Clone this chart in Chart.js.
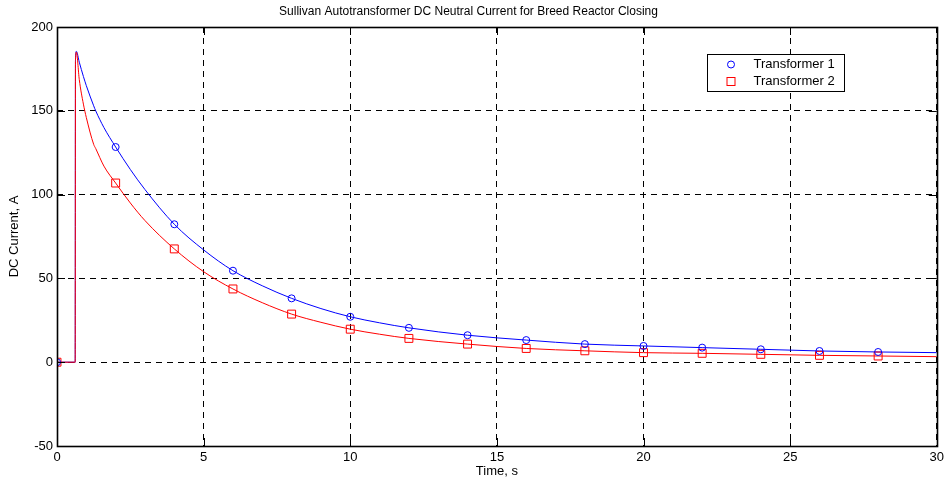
<!DOCTYPE html>
<html><head><meta charset="utf-8">
<script src="https://cdn.jsdelivr.net/npm/chart.js@4"></script>
<style>html,body{margin:0;padding:0;background:#fff}canvas{display:block}</style>
</head><body>
<canvas id="c" width="948" height="481"></canvas>
<script>
const chartTitle = 'Sullivan Autotransformer DC Neutral Current for Breed Reactor Closing';
const xTitle = 'Time, s';
const yTitle = 'DC Current, A';
const seriesNames = ['Transformer 1', 'Transformer 2'];
const xTicks = [0, 5, 10, 15, 20, 25, 30];
const yTicks = [-50, 0, 50, 100, 150, 200];

const lineTime = [0, 0.62, 0.63, 0.66, 0.76, 0.9, 1.0, 1.25, 1.32, 1.6, 2, 2.5, 3, 4, 5, 6, 7, 8, 9, 10, 11, 12, 14, 16, 18, 20, 22, 24, 26, 28, 30];
const transformer1Line = [0, 0, 180, 185.5, 179, 170.5, 165, 153, 150, 140, 128.4, 115, 103, 82.3, 67, 54.6, 45.6, 38.1, 32, 27.1, 23.5, 20.5, 16.1, 13.2, 10.8, 9.7, 8.7, 7.7, 6.7, 6.1, 5.7];
const transformer2Line = [0, 0, 180, 185, 168.6, 154, 146, 130, 127.5, 117, 106.9, 95, 84.5, 67.6, 54, 43.7, 35.5, 28.7, 23.8, 19.7, 16.7, 14.2, 10.8, 8.2, 6.8, 5.7, 5.3, 4.7, 4.1, 3.7, 3.3];

const markerTime = [0, 2, 4, 6, 8, 10, 12, 14, 16, 18, 20, 22, 24, 26, 28];
const transformer1Markers = [0, 128.4, 82.3, 54.6, 38.1, 27.1, 20.5, 16.1, 13.2, 10.8, 9.7, 8.7, 7.7, 6.7, 6.1];
const transformer2Markers = [0, 106.9, 67.6, 43.7, 28.7, 19.7, 14.2, 10.8, 8.2, 6.8, 5.7, 5.3, 4.7, 4.1, 3.7];

const FONT = '"Liberation Sans", Arial, Helvetica, sans-serif';
const BLUE = '#0000ff', RED = '#ff0000';

const pts = (xs, ys) => xs.map((x, i) => ({x: x, y: ys[i]}));

const boxPlugin = {
  id: 'matlabBox',
  afterDatasetsDraw(chart) {
    const {ctx, chartArea: a, scales} = chart;
    ctx.save();
    ctx.strokeStyle = '#000';
    ctx.lineWidth = 1;
    ctx.setLineDash([]);
    // inward ticks
    const tl = 8;
    ctx.beginPath();
    xTicks.forEach(v => {
      const px = Math.round(scales.x.getPixelForValue(v)) + 0.5;
      ctx.moveTo(px, a.bottom); ctx.lineTo(px, a.bottom - tl);
      ctx.moveTo(px, a.top); ctx.lineTo(px, a.top + tl);
    });
    yTicks.forEach(v => {
      const py = Math.round(scales.y.getPixelForValue(v)) + 0.5;
      ctx.moveTo(a.left, py); ctx.lineTo(a.left + tl, py);
      ctx.moveTo(a.right, py); ctx.lineTo(a.right - tl, py);
    });
    ctx.stroke();
    ctx.lineWidth = 1.6;
    ctx.strokeRect(Math.round(a.left) + 0.5, Math.round(a.top) + 0.5, Math.round(a.right - a.left), Math.round(a.bottom - a.top));
    // legend
    const lx = Math.round(a.right - 230) + 0.5, ly = Math.round(a.top + 27) + 0.5, lw = 137, lh = 37;
    ctx.fillStyle = '#fff';
    ctx.fillRect(lx, ly, lw, lh);
    ctx.lineWidth = 1;
    ctx.strokeRect(lx, ly, lw, lh);
    const mx = lx + 23.5;
    const r1 = ly + 10, r2 = ly + 27;
    ctx.strokeStyle = BLUE;
    ctx.beginPath(); ctx.arc(mx, r1, 3.5, 0, Math.PI * 2); ctx.stroke();
    ctx.strokeStyle = RED;
    ctx.strokeRect(mx - 4, r2 - 4, 8, 8);
    ctx.fillStyle = '#000';
    ctx.font = '13px ' + FONT;
    ctx.textAlign = 'left';
    ctx.textBaseline = 'middle';
    ctx.fillText(seriesNames[0], lx + 46, r1);
    ctx.fillText(seriesNames[1], lx + 46, r2);
    ctx.restore();
  }
};

new Chart(document.getElementById('c'), {
  type: 'line',
  data: {
    datasets: [
      {label: seriesNames[0] + ' line', data: pts(lineTime, transformer1Line), borderColor: BLUE, borderWidth: 1, pointRadius: 0, cubicInterpolationMode: 'monotone', fill: false, order: 2},
      {label: seriesNames[1] + ' line', data: pts(lineTime, transformer2Line), borderColor: RED, borderWidth: 1, pointRadius: 0, cubicInterpolationMode: 'monotone', fill: false, order: 1},
      {label: seriesNames[0], data: pts(markerTime, transformer1Markers), showLine: false, pointStyle: 'circle', pointRadius: 3.5, borderColor: BLUE, backgroundColor: 'rgba(0,0,0,0)', pointBorderWidth: 1, order: 0},
      {label: seriesNames[1], data: pts(markerTime, transformer2Markers), showLine: false, pointStyle: 'rect', pointRadius: 5.6, borderColor: RED, backgroundColor: 'rgba(0,0,0,0)', pointBorderWidth: 1, order: 0}
    ]
  },
  options: {
    responsive: false,
    animation: false,
    devicePixelRatio: 1,
    layout: {padding: {left: 0, right: 11, top: 0, bottom: 0}},
    plugins: {
      legend: {display: false},
      tooltip: {enabled: false},
      title: {display: true, text: chartTitle, color: '#000', font: {family: FONT, size: 12, weight: 'normal'}, padding: {top: 4, bottom: 8.6}}
    },
    scales: {
      x: {
        type: 'linear', min: 0, max: 30,
        afterBuildTicks: s => { s.ticks = xTicks.map(v => ({value: v})); },
        afterFit: s => { s.height = 35; },
        ticks: {color: '#000', font: {family: FONT, size: 13}, padding: 4, maxRotation: 0, autoSkip: false},
        grid: {color: '#000', lineWidth: 1, drawTicks: false},
        border: {display: false, dash: [6, 5]},
        title: {display: true, text: xTitle, color: '#000', font: {family: FONT, size: 13}, padding: {top: 0, bottom: 2}}
      },
      y: {
        type: 'linear', min: -50, max: 200,
        afterBuildTicks: s => { s.ticks = yTicks.map(v => ({value: v})); },
        afterFit: s => { s.width = 57; },
        ticks: {color: '#000', font: {family: FONT, size: 13}, padding: 4, autoSkip: false},
        grid: {color: '#000', lineWidth: 1, drawTicks: false},
        border: {display: false, dash: [6, 5]},
        title: {display: true, text: yTitle, color: '#000', font: {family: FONT, size: 13}, padding: {top: 7, bottom: 0}}
      }
    }
  },
  plugins: [boxPlugin]
});
</script>
</body></html>
